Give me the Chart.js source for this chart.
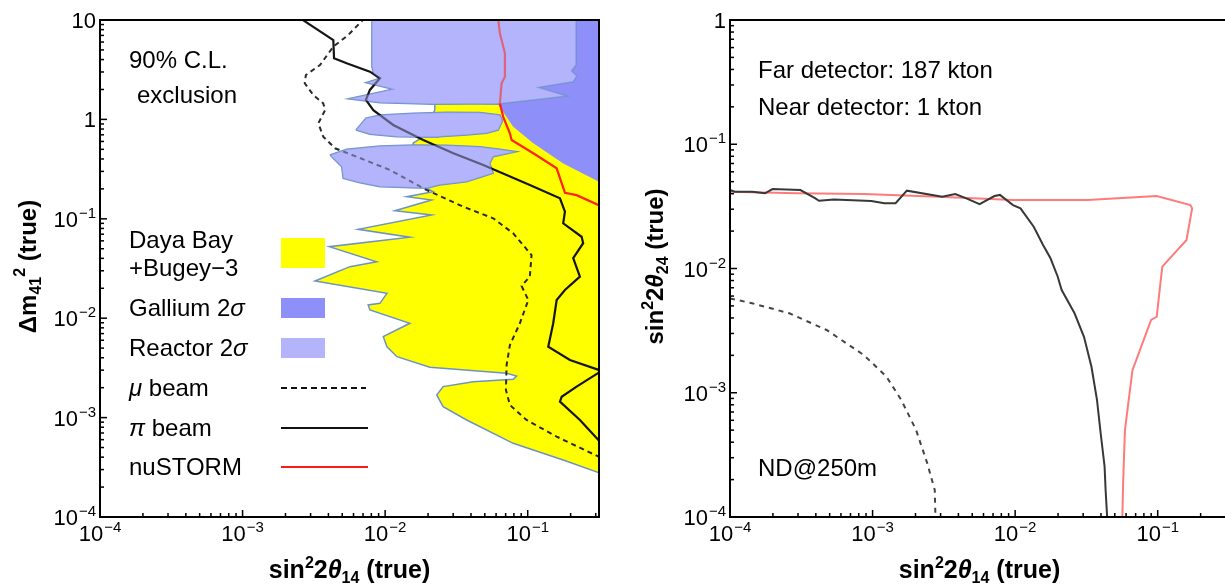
<!DOCTYPE html>
<html lang="en">
<head>
<meta charset="UTF-8">
<title>Sterile neutrino exclusion</title>
<script src="https://cdn.jsdelivr.net/npm/chart.js"></script>
<style>
  html, body { margin: 0; padding: 0; background: #fff; overflow: hidden; }
  body { width: 1225px; height: 587px; position: relative; }
  canvas { position: absolute; top: 0; }
  #left { left: 0; }
  #right { left: 612px; }
</style>
</head>
<body>
<canvas id="left" width="612" height="587"></canvas>
<canvas id="right" width="625" height="587"></canvas>
<script>
const FONT = "'Liberation Sans', Arial, Helvetica, sans-serif";

// tick exponents
const leftXTicks = [-4, -3, -2, -1];
const leftYTicks = [1, 0, -1, -2, -3, -4];
const rightXTicks = [-4, -3, -2, -1];
const rightYTicks = [0, -1, -2, -3, -4];

// ---- left panel: sin^2 2theta14 vs dm41^2 ----
const yellowX = [0.0223,0.0223,0.0175,0.0157,0.0175,0.0195,0.0217,0.0142,0.0212,0.0117,0.0212,0.00647,0.0149,0.00406,0.00871,0.00566,0.00322,0.0103,0.00919,0.0076,0.00782,0.0149,0.0097,0.0103,0.0121,0.0206,0.0711,0.0836,0.0791,0.0415,0.0255,0.0230,0.0255,0.0373,0.0791,0.1774,0.32,0.32];
const yellowY = [12,1.24,0.635,0.579,0.31,0.203,0.1875,0.1668,0.1546,0.1205,0.1092,0.0783,0.0652,0.0524,0.037,0.033,0.0237,0.0178,0.0141,0.0136,0.0121,0.00889,0.00652,0.00516,0.0041,0.00321,0.00279,0.00262,0.00243,0.0023,0.00205,0.00169,0.00129,0.000946,0.000551,0.000374,0.000277,12];

const galliumX = [0.0462,0.0462,0.0621,0.0791,0.1094,0.1774,0.316,0.4,0.4];
const galliumY = [12,1.43,1.40,0.845,0.575,0.361,0.236,0.198,12];

const reactorTopX = [0.00807,0.00807,0.00826,0.00919,0.00733,0.0113,0.00551,0.00919,0.0217,0.0373,0.0605,0.1086,0.1875,0.1186,0.2085,0.2203,0.2028,0.218,0.218];
const reactorTopY = [12,3.39,2.91,2.59,2.34,2.01,1.61,1.47,1.42,1.43,1.43,1.57,1.72,2.10,2.39,2.73,3.09,3.52,12];
const reactorMidX = [0.00624,0.00733,0.00919,0.01567,0.027,0.0462,0.0638,0.0667,0.0621,0.0515,0.0373,0.0242,0.0230,0.01205,0.00782,0.00624];
const reactorMidY = [0.782,1.03,1.107,1.15,1.18,1.17,1.107,0.97,0.782,0.725,0.697,0.670,0.660,0.670,0.708,0.782];
const reactorLowX = [0.0041,0.00537,0.00919,0.0157,0.027,0.0462,0.0638,0.0836,0.0573,0.0543,0.0573,0.0373,0.0242,0.0195,0.00919,0.00665,0.00508,0.00495,0.0041];
const reactorLowY = [0.438,0.50,0.54,0.552,0.548,0.531,0.50,0.473,0.422,0.361,0.287,0.236,0.219,0.203,0.210,0.231,0.255,0.334,0.438];

const muBeamX = [0.00721,0.00551,0.00433,0.00349,0.00278,0.00273,0.00313,0.00368,0.00379,0.0034,0.00368,0.00445,0.00631,0.0108,0.0195,0.0353,0.0573,0.0791,0.1064,0.1035,0.0906,0.101,0.0881,0.075,0.0711,0.0703,0.075,0.0982,0.1596,0.32];
const muBeamY = [10.5,7.07,5.39,3.52,2.80,2.31,1.76,1.45,1.24,0.914,0.670,0.512,0.421,0.31,0.195,0.1324,0.1012,0.0714,0.0432,0.0262,0.0211,0.01524,0.00889,0.00537,0.00338,0.0019,0.00134,0.000946,0.000643,0.0004];

const piBeamX = [0.00259,0.00433,0.00438,0.00537,0.00782,0.00919,0.00782,0.00733,0.00826,0.0114,0.0185,0.0301,0.0488,0.1035,0.1683,0.1824,0.1774,0.2388,0.2449,0.2085,0.2323,0.1824,0.1596,0.151,0.1393,0.1977,0.33,0.2203,0.173,0.1683,0.2323,0.33];
const piBeamY = [10.2,6.29,4.12,3.67,3.02,2.59,1.98,1.57,1.24,0.879,0.621,0.456,0.348,0.219,0.1607,0.1178,0.0901,0.066,0.0568,0.0401,0.0262,0.0192,0.01524,0.00889,0.00516,0.0038,0.00295,0.00205,0.00162,0.00145,0.000946,0.00055];

const nuStormX = [0.0621,0.0638,0.0692,0.0692,0.0656,0.0638,0.0673,0.075,0.0771,0.1094,0.1596,0.1824,0.2203,0.33];
const nuStormY = [10.2,7.35,4.62,2.69,2.31,1.45,1.06,0.725,0.621,0.456,0.322,0.183,0.173,0.133];

// ---- right panel: sin^2 2theta14 vs sin^2 2theta24, ND@250m ----
const ndPiX = [1e-4,1.08e-4,1.43e-4,1.76e-4,1.99e-4,3.12e-4,3.97e-4,4.21e-4,5.36e-4,9.8e-4,1.21e-3,1.45e-3,1.74e-3,3.08e-3,3.80e-3,4.55e-3,5.63e-3,7.16e-3,7.82e-3,9.66e-3,0.0109,0.0135,0.0157,0.0177,0.0199,0.0212,0.0261,0.0304,0.0343,0.0375,0.0398,0.0424,0.0431,0.0442];
const ndPiY = [0.0428,0.0415,0.0415,0.0403,0.0436,0.0428,0.0367,0.0351,0.036,0.0349,0.0335,0.0335,0.0423,0.0378,0.0398,0.0367,0.033,0.0383,0.0391,0.0324,0.0305,0.0217,0.01545,0.01208,0.00859,0.00671,0.00436,0.00282,0.00162,0.000875,0.000472,0.000254,0.000165,0.0001];

const ndNuStormX = [1e-4,2.94e-4,8.69e-4,2.90e-3,9.66e-3,0.0323,0.0984,0.1694,0.1743,0.1592,0.1077,0.1044,0.1014,0.0984,0.0899,0.0665,0.0589,0.0572,0.0565];
const ndNuStormY = [0.0415,0.0403,0.0398,0.0378,0.0356,0.0356,0.0383,0.0324,0.0305,0.01696,0.01034,0.0076,0.00558,0.00409,0.00385,0.00152,0.000501,0.000187,0.0001];

const ndMuX = [1e-4,1.43e-4,2.61e-4,4.76e-4,8.69e-4,1.25e-3,1.59e-3,2.02e-3,2.42e-3,2.73e-3,2.76e-3];
const ndMuY = [0.00575,0.00525,0.00436,0.0032,0.00201,0.00135,0.000875,0.000501,0.00027,0.000165,0.0001];

const YELLOW = '#ffff00', GALLIUM = '#8f8ff9', REACTOR = '#b4b4fc', EDGE = '#6d91c9';

function pts(xs, ys) {
    return xs.map((x, i) => ({x: x, y: ys[i]}));
}

function area(xs, ys, color, edge, order) {
    return {
        data: pts(xs, ys), showLine: true, pointRadius: 0, fill: 'shape',
        backgroundColor: color, borderColor: edge || 'rgba(0,0,0,0)',
        borderWidth: edge ? 1.5 : 0, order: order
    };
}

function curve(xs, ys, color, width, dash, order) {
    return {
        data: pts(xs, ys), showLine: true, pointRadius: 0, fill: false,
        borderColor: color, borderWidth: width, borderDash: dash || [], order: order
    };
}

function baseOptions(pad, yMin, yMax) {
    return {
        responsive: false, animation: false, events: [],
        layout: { padding: pad },
        plugins: { legend: { display: false }, tooltip: { enabled: false } },
        scales: {
            x: { type: 'logarithmic', min: 1e-4, max: Math.pow(10, -0.5), display: false },
            y: { type: 'logarithmic', min: yMin, max: yMax, display: false }
        }
    };
}

// text helpers
function richText(ctx, parts, x, y, align) {
    let w = 0;
    parts.forEach(p => { ctx.font = p[1]; w += ctx.measureText(p[0]).width; });
    let cx = align === 'center' ? x - w / 2 : x;
    parts.forEach(p => {
        ctx.font = p[1];
        ctx.fillText(p[0], cx, y + (p[2] || 0));
        cx += ctx.measureText(p[0]).width;
    });
}

function powLabel(ctx, e, x, y, align) {
    const base = e === 0 ? '1' : '10';
    const sup = (e === 0 || e === 1) ? '' : '\u2212' + Math.abs(e);
    ctx.font = '22px ' + FONT;
    const wb = ctx.measureText(base).width;
    ctx.font = '15px ' + FONT;
    const ws = sup ? ctx.measureText(sup).width + 1 : 0;
    const x0 = align === 'center' ? x - (wb + ws) / 2 : x - wb - ws;
    ctx.font = '22px ' + FONT;
    ctx.fillText(base, x0, y);
    if (sup) {
        ctx.font = '15px ' + FONT;
        ctx.fillText(sup, x0 + wb + 1, y - 9);
    }
}

const B = 'bold 25px ' + FONT, BS = 'bold 16px ' + FONT, BI = 'bold italic 25px ' + FONT;
const BY = 'bold 24px ' + FONT, BYS = 'bold 16px ' + FONT;
const N = '24px ' + FONT, NI = 'italic 24px ' + FONT;
function sinTitle(sub, big) {
    const f = big ? B : BY, fi = big ? BI : 'bold italic 24px ' + FONT;
    return [['sin', f], ['2', BS, -10], ['2', f], ['\u03b8', fi], [sub, BS, 5], [' (true)', f]];
}
const dmTitle = [['\u0394m', BY], ['41', BYS, 5], ['2', BYS, -11], [' (true)', BY]];

function makeDecor(cfg) {
    return {
        id: 'decor',
        afterDraw(chart) {
            const ctx = chart.ctx, a = chart.chartArea;
            const xs = chart.scales.x, ys = chart.scales.y;
            ctx.save();
            ctx.fillStyle = '#000';
            ctx.strokeStyle = '#000';
            ctx.lineWidth = 1.5;
            // ticks point into the frame
            for (let e = -4; e <= 1; e++) {
                for (let m = 1; m <= 9; m++) {
                    const v = m * Math.pow(10, e);
                    const len = m === 1 ? 7 : 4;
                    if (v >= xs.min * 0.999 && v <= xs.max * 1.001) {
                        const px = xs.getPixelForValue(v);
                        ctx.beginPath(); ctx.moveTo(px, a.bottom); ctx.lineTo(px, a.bottom - len); ctx.stroke();
                    }
                    if (v >= ys.min * 0.999 && v <= ys.max * 1.001) {
                        const py = ys.getPixelForValue(v);
                        ctx.beginPath(); ctx.moveTo(a.left, py); ctx.lineTo(a.left + len, py); ctx.stroke();
                    }
                }
            }
            ctx.lineWidth = 2;
            ctx.strokeRect(a.left, a.top, a.right - a.left, a.bottom - a.top);

            ctx.textAlign = 'left';
            ctx.textBaseline = 'alphabetic';
            cfg.xTicks.forEach(e => powLabel(ctx, e, xs.getPixelForValue(Math.pow(10, e)), a.bottom + 24, 'center'));
            cfg.yTicks.forEach(e => powLabel(ctx, e, a.left - 4, ys.getPixelForValue(Math.pow(10, e)) + 8, 'right'));

            richText(ctx, cfg.xTitle, (a.left + a.right) / 2, 578, 'center');
            ctx.save();
            ctx.translate(cfg.yTitleX, (a.top + a.bottom) / 2 - 2);
            ctx.rotate(-Math.PI / 2);
            richText(ctx, cfg.yTitle, 0, 0, 'center');
            ctx.restore();

            cfg.texts.forEach(t => richText(ctx, t.parts, t.x, t.y, 'left'));
            if (cfg.extra) cfg.extra(ctx);
            ctx.restore();
        }
    };
}

function drawLegend(ctx) {
    ctx.fillStyle = YELLOW; ctx.fillRect(281, 238, 44, 30);
    ctx.fillStyle = GALLIUM; ctx.fillRect(281, 298, 44, 20);
    ctx.fillStyle = REACTOR; ctx.fillRect(281, 338, 44, 20);
    ctx.lineWidth = 2;
    ctx.strokeStyle = '#111';
    ctx.setLineDash([6, 4]);
    ctx.beginPath(); ctx.moveTo(281, 388); ctx.lineTo(366, 388); ctx.stroke();
    ctx.setLineDash([]);
    ctx.beginPath(); ctx.moveTo(281, 428); ctx.lineTo(368, 428); ctx.stroke();
    ctx.strokeStyle = '#ff1a1a';
    ctx.beginPath(); ctx.moveTo(281, 467); ctx.lineTo(368, 467); ctx.stroke();
    ctx.fillStyle = '#000';
    richText(ctx, [['Daya Bay', N]], 129, 248, 'left');
    richText(ctx, [['+Bugey\u22123', N]], 129, 276, 'left');
    richText(ctx, [['Gallium 2', N], ['\u03c3', NI]], 129, 316, 'left');
    richText(ctx, [['Reactor 2', N], ['\u03c3', NI]], 129, 356, 'left');
    richText(ctx, [['\u03bc', NI], [' beam', N]], 129, 396, 'left');
    richText(ctx, [['\u03c0', NI], [' beam', N]], 129, 436, 'left');
    richText(ctx, [['nuSTORM', N]], 129, 475, 'left');
}

const REACTOR_VEIL = 'rgba(180,180,252,0.45)';

new Chart(document.getElementById('left'), {
    type: 'scatter',
    data: {
        datasets: [
            area(yellowX, yellowY, YELLOW, EDGE, 10),
            area(galliumX, galliumY, GALLIUM, null, 9),
            area(reactorTopX, reactorTopY, REACTOR, EDGE, 8),
            area(reactorMidX, reactorMidY, REACTOR, EDGE, 8),
            area(reactorLowX, reactorLowY, REACTOR, EDGE, 8),
            curve(muBeamX, muBeamY, '#2a2a2a', 2, [5, 4], 5),
            curve(piBeamX, piBeamY, '#151515', 2.2, null, 4),
            curve(nuStormX, nuStormY, '#ff2410', 2.2, null, 3),
            area(reactorTopX, reactorTopY, REACTOR_VEIL, null, 1),
            area(reactorMidX, reactorMidY, REACTOR_VEIL, null, 1),
            area(reactorLowX, reactorLowY, REACTOR_VEIL, null, 1)
        ]
    },
    options: baseOptions({left: 100, top: 20, right: 13, bottom: 70}, 1e-4, 10),
    plugins: [makeDecor({
        xTicks: leftXTicks, yTicks: leftYTicks,
        xTitle: sinTitle('14', true), yTitle: dmTitle, yTitleX: 36,
        texts: [
            {x: 129, y: 68, parts: [['90% C.L.', N]]},
            {x: 137, y: 103, parts: [['exclusion', N]]}
        ],
        extra: drawLegend
    })]
});

new Chart(document.getElementById('right'), {
    type: 'scatter',
    data: {
        datasets: [
            curve(ndMuX, ndMuY, '#444444', 2, [5, 5], 3),
            curve(ndNuStormX, ndNuStormY, '#ff7b7b', 2, null, 2),
            curve(ndPiX, ndPiY, '#383838', 2, null, 1)
        ]
    },
    options: baseOptions({left: 118, top: 20, right: 8, bottom: 70}, 1e-4, 1),
    plugins: [makeDecor({
        xTicks: rightXTicks, yTicks: rightYTicks,
        xTitle: sinTitle('14', true), yTitle: sinTitle('24', false), yTitleX: 51,
        texts: [
            {x: 146, y: 78, parts: [['Far detector: 187 kton', N]]},
            {x: 146, y: 115, parts: [['Near detector: 1 kton', N]]},
            {x: 146, y: 476, parts: [['ND@250m', N]]}
        ]
    })]
});
</script>
</body>
</html>
